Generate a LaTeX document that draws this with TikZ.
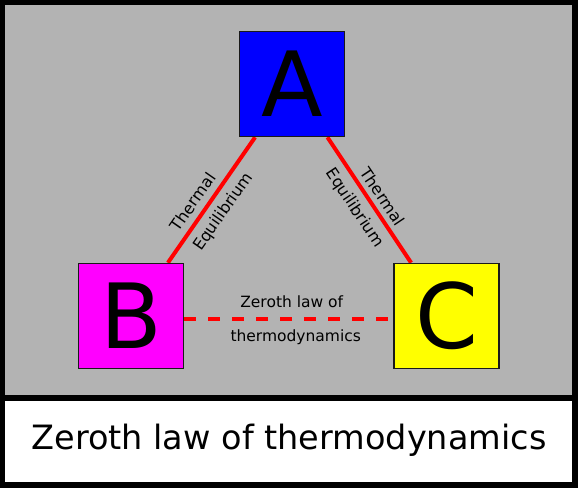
\documentclass[tikz,border=0pt]{standalone}
\usepackage{fontspec}
\setmainfont{DejaVu Sans}
\pgfdeclarelayer{bg}
\pgfdeclarelayer{lines}
\pgfsetlayers{bg,lines,main}
\definecolor{panelgray}{HTML}{B3B3B3}
\definecolor{boxedge}{HTML}{1A1A1A}
\definecolor{boxblue}{RGB}{0,0,255}
\definecolor{boxmagenta}{RGB}{255,0,255}
\definecolor{boxyellow}{RGB}{255,255,0}
\definecolor{tiered}{RGB}{255,0,0}
\begin{document}
\begin{tikzpicture}[x=1pt,y=-1pt,
  box/.style={draw=boxedge, line width=1.5pt, minimum size=105pt, inner sep=0pt,
    font=\fontsize{90}{90}\selectfont},
  tie/.style={draw=tiered, line width=4pt},
  lbl/.style={font=\fontsize{16}{19}\selectfont, text=black, sloped, inner sep=0pt},
  mid/.style={font=\fontsize{15.5}{18}\selectfont, text=black, inner sep=0pt},
  title/.style={font=\fontsize{33.5}{40}\selectfont, inner sep=0pt},
]
\useasboundingbox (0,0) rectangle (578,488);
\begin{pgfonlayer}{bg}
  \fill[black] (0,0) rectangle (578,488);
  \fill[panelgray] (5,5) rectangle (572,395);
  \fill[white] (5,401) rectangle (572,482);
\end{pgfonlayer}
\node[box, fill=boxblue] (A) at (292,84) {A};
\node[box, fill=boxmagenta] (B) at (131,316) {B};
\node[box, fill=boxyellow] (C) at (446.5,316) {C};
\node[title] (T) at (289,440) {Zeroth law of thermodynamics};
\begin{pgfonlayer}{lines}
  \draw[tie] (A) -- node[lbl, pos=0.58, above=6pt] (t1) {Thermal}
                    node[lbl, pos=0.52, below=7pt] (e1) {Equilibrium} (B);
  \draw[tie] (A) -- node[lbl, pos=0.53, above=5pt] (t2) {Thermal}
                    node[lbl, pos=0.49, below=7pt] (e2) {Equilibrium} (C);
  \draw[tie, dash pattern=on 12pt off 12pt] ([yshift=-3pt]B.east) --
      node[mid, yshift=17pt, xshift=3pt] (z1) {Zeroth law of}
      node[mid, yshift=-18pt, xshift=7pt] (z2) {thermodynamics}
      ([yshift=-3pt]C.west);
\end{pgfonlayer}
\end{tikzpicture}
\end{document}
